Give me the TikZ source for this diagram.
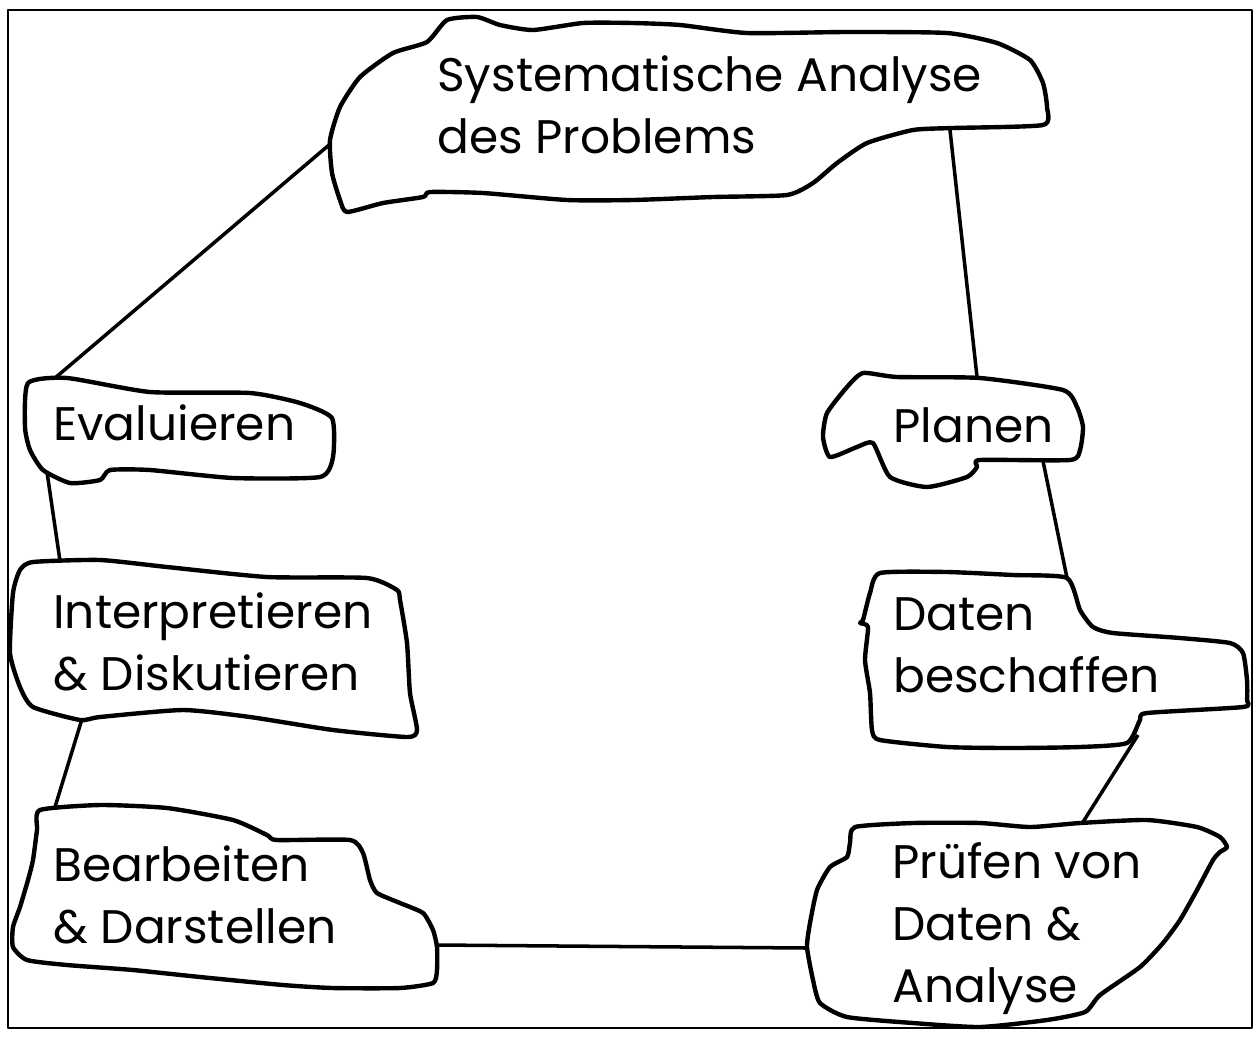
\documentclass[tikz,border=0pt]{standalone}
\usepackage{fontspec}
\setmainfont{Poppins}
\begin{document}
\begin{tikzpicture}[x=0.02cm, y=-0.02cm, line join=round,
  every node/.style={inner sep=0pt, align=left, anchor=base west, font=\fontsize{26.8}{35.2}\selectfont},
  blob/.style={draw=black, line width=2.5pt},
  link/.style={draw=black, line width=2pt}]

  \useasboundingbox (0,0) rectangle (1257,1039);

  % Marco exterior
  \draw[line width=0.9pt] (8,10) rectangle (1252,1028);

  % Contornos irregulares de cada etapa
  \draw[blob] plot[smooth cycle, tension=0.35] coordinates {(427,42) (447,20) (477,17) (500,25) (533,30) (583,23) (633,23) (680,25) (747,33) (847,32) (947,33) (997,43) (1030,60) (1043,83) (1047,107) (1043,125) (953,128) (913,130) (867,143) (837,163) (813,183) (787,195) (713,197) (633,200) (567,200) (483,193) (430,192) (423,197) (383,203) (347,212) (340,200) (332,173) (330,140) (340,107) (360,77) (393,53)};
  \draw[blob] plot[smooth cycle, tension=0.35] coordinates {(28,383) (67,378) (150,392) (250,393) (300,403) (332,418) (333,457) (320,477) (233,478) (150,470) (110,470) (100,480) (70,483) (43,470) (30,450) (25,427)};
  \draw[blob] plot[smooth cycle, tension=0.35] coordinates {(20,570) (33,562) (100,560) (167,567) (267,577) (367,578) (397,590) (400,600) (407,643) (410,693) (417,730) (407,737) (333,730) (250,717) (183,710) (100,717) (80,720) (33,707) (20,687) (10,653) (13,593)};
  \draw[blob] plot[smooth cycle, tension=0.35] coordinates {(863,373) (897,377) (980,378) (1063,390) (1077,407) (1083,427) (1080,450) (1070,460) (980,460) (977,467) (967,477) (927,487) (890,477) (873,443) (857,447) (830,457) (823,437) (827,413) (847,387)};
  \draw[blob] plot[smooth cycle, tension=0.35] coordinates {(880,573) (947,572) (1013,575) (1067,578) (1080,610) (1093,627) (1113,633) (1180,638) (1230,643) (1243,653) (1247,680) (1247,700) (1243,707) (1147,713) (1140,720) (1127,743) (1080,747) (1013,748) (947,747) (880,740) (872,730) (870,693) (865,660) (868,627) (860,623) (863,620) (870,593)};
  \draw[blob] plot[smooth cycle, tension=0.35] coordinates {(40,810) (100,805) (167,808) (233,820) (267,835) (277,840) (350,840) (363,853) (370,880) (377,893) (400,903) (423,913) (433,930) (437,947) (437,970) (433,983) (400,988) (333,988) (283,985) (200,977) (133,970) (67,965) (27,960) (13,947) (13,927) (20,907) (28,880) (33,860) (37,830)};
  \draw[blob] plot[smooth cycle, tension=0.35] coordinates {(855,827) (913,823) (980,823) (1030,827) (1080,823) (1147,820) (1197,827) (1220,837) (1227,847) (1220,852) (1213,860) (1197,890) (1180,920) (1163,943) (1140,967) (1100,995) (1085,1012) (1047,1020) (980,1027) (913,1023) (847,1017) (820,1003) (813,980) (807,947) (810,923) (817,890) (830,867) (847,857) (850,843)};

  % Textos (base = ultima linea)
  \node (sys) at (437,153) {Systematische Analyse\\des Problems};
  \node (eval) at (53,440) {Evaluieren};
  \node (interp) at (53,690) {Interpretieren\\\& Diskutieren};
  \node (planen) at (893,442) {Planen};
  \node (daten) at (893,692) {Daten\\beschaffen};
  \node (bearb) at (53,943) {Bearbeiten\\\& Darstellen};
  \node (pruef) at (892,1002) {Prüfen von\\Daten \&\\Analyse};

  % Puntos de contacto en los contornos
  \coordinate (sysW) at (329,145);
  \coordinate (sysS) at (950,130);
  \coordinate (evalN) at (55,378);
  \coordinate (evalS) at (47,472);
  \coordinate (interpN) at (60,561);
  \coordinate (interpS) at (82,719);
  \coordinate (bearbN) at (55,807);
  \coordinate (bearbE) at (437,945);
  \coordinate (pruefW) at (807,948);
  \coordinate (pruefN) at (1083,822);
  \coordinate (datenS) at (1138,735);
  \coordinate (datenN) at (1067,578);
  \coordinate (planenS) at (1043,461);
  \coordinate (planenN) at (977,377);

  % Líneas del ciclo
  \draw[link] (sysW) -- (evalN);
  \draw[link] (evalS) -- (interpN);
  \draw[link] (interpS) -- (bearbN);
  \draw[link] (bearbE) -- (pruefW);
  \draw[link] (pruefN) -- (datenS);
  \draw[link] (datenN) -- (planenS);
  \draw[link] (planenN) -- (sysS);

\end{tikzpicture}
\end{document}
